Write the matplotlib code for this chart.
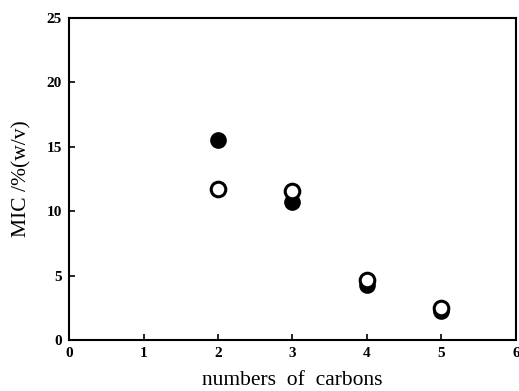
import matplotlib
matplotlib.use("Agg")
import matplotlib.pyplot as plt

carbons = [2, 3, 4, 5]
mic_filled = [15.5, 10.7, 4.3, 2.3]
mic_open = [11.7, 11.6, 4.7, 2.5]
xticks = [0, 1, 2, 3, 4, 5, 6]
yticks = [0, 5, 10, 15, 20, 25]

plt.rcParams['font.family'] = ['Liberation Serif', 'DejaVu Serif']

fig = plt.figure(figsize=(5.19, 3.91), dpi=100)
ax = fig.add_axes([0.133, 0.130, 0.861, 0.824])

ax.plot(carbons, mic_filled, 'o', color='black', markersize=10.5, markeredgewidth=1.5, zorder=3)
ax.plot(carbons, mic_open, 'o', markerfacecolor='white', markeredgecolor='black',
        markersize=10.5, markeredgewidth=2.2, zorder=4)

ax.set_xlim(0, 6)
ax.set_ylim(0, 25)
ax.set_xticks(xticks)
ax.set_yticks(yticks)
ax.tick_params(direction='in', length=4, width=1.2, labelsize=11, pad=5)
for lab in ax.get_xticklabels() + ax.get_yticklabels():
    lab.set_fontweight('bold')
for s in ax.spines.values():
    s.set_linewidth(1.5)

ax.set_xlabel('numbers  of  carbons', fontsize=15.5, labelpad=8)
ax.set_ylabel('MIC /%(w/v)', fontsize=15.5, labelpad=11)

fig.savefig('out.png', dpi=100)
